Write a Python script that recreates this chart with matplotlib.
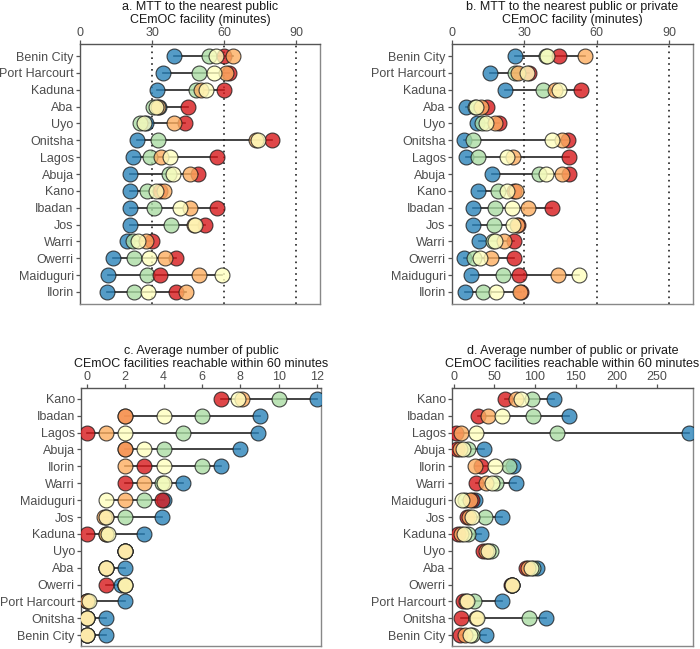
import matplotlib
matplotlib.use("Agg")
import matplotlib.pyplot as plt

plt.rcParams["font.family"] = ["Liberation Sans", "DejaVu Sans"]
plt.rcParams["font.size"] = 9

# ── Data ──────────────────────────────────────────────────────────────────────
# each row: values for the five groups in order [red, orange, yellow, green, blue]

cities_top = ["Benin City", "Port Harcourt", "Kaduna", "Aba", "Uyo", "Onitsha",
              "Lagos", "Abuja", "Kano", "Ibadan", "Jos", "Warri", "Owerri",
              "Maiduguri", "Ilorin"]

cities_bottom = ["Kano", "Ibadan", "Lagos", "Abuja", "Ilorin", "Warri",
                 "Maiduguri", "Jos", "Kaduna", "Uyo", "Aba", "Owerri",
                 "Port Harcourt", "Onitsha", "Benin City"]

mtt_public = [
    [59.8, 63.9, 56.7, 53.7, 39.1],
    [62.0, 60.9, 56.0, 49.5, 34.6],
    [59.8, 50.5, 52.3, 48.4, 32.1],
    [44.9, 32.5, 31.5, 30.5, 33.0],
    [43.9, 39.0, 26.6, 24.9, 27.7],
    [80.0, 73.5, 74.0, 32.6, 23.8],
    [57.0, 33.9, 37.3, 29.0, 22.1],
    [49.1, 45.9, 38.7, 37.0, 21.0],
    [33.5, 34.9, 31.5, 28.1, 21.0],
    [57.0, 45.9, 41.5, 30.8, 20.7],
    [51.9, 47.4, 48.0, 37.8, 20.7],
    [30.2, 27.7, 24.2, 22.1, 19.6],
    [40.1, 35.5, 28.6, 22.4, 13.6],
    [33.5, 49.5, 59.2, 28.1, 11.5],
    [39.8, 44.0, 28.3, 22.5, 11.1],
]

mtt_any = [
    [44.5, 55.1, 39.5, 39.2, 26.2],
    [31.9, 27.5, 31.0, 26.2, 15.8],
    [53.4, 42.7, 44.5, 37.9, 22.0],
    [14.5, 12.1, 10.0, 9.6, 5.8],
    [19.5, 17.9, 14.2, 12.4, 10.3],
    [48.2, 45.7, 41.6, 8.9, 4.8],
    [48.5, 25.5, 23.0, 10.6, 5.8],
    [48.5, 45.5, 38.8, 36.1, 16.8],
    [25.9, 26.4, 22.7, 19.0, 10.7],
    [41.3, 31.4, 24.8, 17.9, 8.9],
    [27.5, 26.9, 25.2, 17.6, 8.9],
    [25.9, 21.7, 18.0, 17.2, 11.0],
    [25.9, 16.1, 11.7, 9.2, 4.8],
    [27.9, 44.1, 52.8, 21.0, 7.8],
    [28.6, 28.2, 18.3, 12.8, 5.5],
]

n_public = [
    [7.0, 8.1, 7.9, 10.0, 12.0],
    [2.0, 2.0, 4.0, 6.0, 9.0],
    [0.0, 1.0, 2.0, 5.0, 8.9],
    [2.0, 2.0, 3.0, 4.0, 8.0],
    [3.0, 2.0, 4.0, 6.0, 7.0],
    [2.0, 3.0, 4.0, 3.9, 5.0],
    [3.9, 2.0, 1.0, 3.0, 4.0],
    [1.0, 0.9, 1.0, 2.0, 3.9],
    [0.0, 1.0, 1.1, 1.0, 3.0],
    [2.0, 2.0, 2.0, 2.0, 2.0],
    [1.0, 1.0, 1.0, 1.0, 2.0],
    [1.0, 2.0, 2.0, 2.0, 1.8],
    [0.0, 0.0, 0.1, 0.0, 2.0],
    [0.0, 0.0, 0.0, 0.0, 1.0],
    [0.0, 0.0, 0.0, 0.0, 1.0],
]

n_any = [
    [63.6, 77.2, 82.5, 96.5, 123.6],
    [30.0, 42.3, 60.0, 96.9, 142.0],
    [2.5, 9.4, 27.9, 127.3, 288.6],
    [4.1, 7.4, 11.5, 17.6, 37.4],
    [33.3, 26.7, 51.3, 68.1, 73.1],
    [27.9, 39.4, 47.6, 52.5, 77.2],
    [23.0, 19.7, 10.7, 13.5, 25.9],
    [16.4, 18.9, 22.6, 38.2, 59.5],
    [5.3, 9.4, 12.7, 17.6, 33.3],
    [36.1, 39.4, 42.3, 46.4, 42.0],
    [88.7, 91.5, 95.6, 97.7, 101.8],
    [70.2, 72.0, 72.0, 72.0, 72.0],
    [11.5, 14.8, 16.4, 24.6, 59.5],
    [8.6, 28.0, 29.1, 92.8, 113.3],
    [7.4, 14.0, 19.7, 23.0, 40.3],
]

group_colors = ["#d7191c", "#fdae61", "#ffffbf", "#abdda4", "#2b83ba"]
draw_order = [4, 3, 0, 1, 2]   # blue, green, red, orange, yellow


# ── Drawing ───────────────────────────────────────────────────────────────────

def dumbbell(ax, cities, rows, title, xlim, xticks, vlines=(), pad=0.7):
    ys = list(range(len(cities)))
    for y, row in zip(ys, rows):
        ax.plot([min(row), max(row)], [y, y], color="#222222", lw=1.2, zorder=2)
    for g in draw_order:
        ax.scatter([row[g] for row in rows], ys, s=115, color=group_colors[g],
                   alpha=0.8, edgecolor="#1a1a1a", linewidth=0.8, zorder=3)
    for v in vlines:
        ax.axvline(v, color="#222222", lw=1.2, ls=(0, (1, 2.5)), zorder=1)

    ax.set_xlim(*xlim)
    ax.set_ylim(len(cities) - 1 + pad, -pad)
    ax.set_xticks(xticks)
    ax.set_yticks(ys)
    ax.set_yticklabels(cities)
    ax.xaxis.tick_top()
    ax.tick_params(axis="both", colors="#555555", labelcolor="#4d4d4d",
                   labelsize=9.0, length=3, width=0.9)
    ax.tick_params(axis="x", bottom=False, pad=0.5)
    ax.tick_params(axis="y", pad=1.5)
    for sp in ax.spines.values():
        sp.set_color("#888888")
        sp.set_linewidth(1.0)
    ax.spines["left"].set_color("#555555")
    ax.spines["top"].set_color("#555555")
    ax.set_title(title, fontsize=9.0, color="#1a1a1a", pad=3, linespacing=1.15)


fig = plt.figure(figsize=(7.0, 6.49), dpi=100)

ax_a = fig.add_axes([80 / 700, 1 - 304 / 649, 240 / 700, 260 / 649])
ax_b = fig.add_axes([452 / 700, 1 - 304 / 649, 241 / 700, 260 / 649])
ax_c = fig.add_axes([81 / 700, 1 - 646 / 649, 240 / 700, 258 / 649])
ax_d = fig.add_axes([452 / 700, 1 - 646 / 649, 241 / 700, 258 / 649])

dumbbell(ax_a, cities_top, mtt_public,
         "a. MTT to the nearest public\nCEmOC facility (minutes)",
         (0, 100), [0, 30, 60, 90], vlines=(30, 60, 90), pad=0.72)
dumbbell(ax_b, cities_top, mtt_any,
         "b. MTT to the nearest public or private\nCEmOC facility (minutes)",
         (0, 100), [0, 30, 60, 90], vlines=(30, 60, 90), pad=0.72)
dumbbell(ax_c, cities_bottom, n_public,
         "c. Average number of public\nCEmOC facilities reachable within 60 minutes",
         (-0.3, 12.2), [0, 2, 4, 6, 8, 10, 12], pad=0.64)
dumbbell(ax_d, cities_bottom, n_any,
         "d. Average number of public or private\nCEmOC facilities reachable within 60 minutes",
         (-2, 294), [0, 50, 100, 150, 200, 250], pad=0.64)

fig.savefig("out.png", dpi=100)
